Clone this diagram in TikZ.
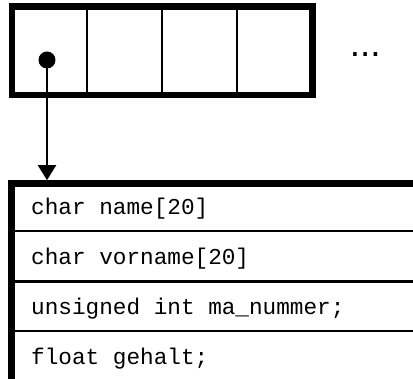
\documentclass[tikz,border=0pt]{standalone}
\usepackage{fontspec}
\setmonofont{Liberation Mono}
\newfontfamily\dotsfont{Liberation Sans}
\usetikzlibrary{arrows.meta}
\begin{document}
\begin{tikzpicture}[x=1pt,y=-1pt,
  cell/.style={draw,line width=2pt,minimum width=75.1pt,minimum height=88.3pt,inner sep=0pt,outer sep=0pt},
  thick border/.style={line width=6.6pt},
  divider/.style={line width=2.6pt},
  member/.style={anchor=base west,inner sep=0pt,font=\fontsize{22.7}{26}\ttfamily},
  ptr/.style={circle,fill=black,minimum size=17pt,inner sep=0pt},
  conn/.style={line width=2pt,-{Triangle[width=18pt,length=15pt]}}]
\useasboundingbox (0,0) rectangle (413,379);
% array cells
\node[cell] (c1) at (49.35,50.85) {};
\node[cell] (c2) at (124.45,50.85) {};
\node[cell] (c3) at (199.55,50.85) {};
\node[cell] (c4) at (274.65,50.85) {};
\draw[thick border] (c1.north west) rectangle (c4.south east);
\node[ptr] (p) at (47,60) {};
\node[anchor=base west,inner sep=0pt,font=\fontsize{37}{40}\dotsfont] (more) at (349.6,57) {...};
% struct
\coordinate (stop) at (47,180.2);
\draw[thick border] (11.5,183.5) -- (425,183.5);
\draw[thick border] (11.5,180.2) -- (11.5,390);
\draw[divider] (11.5,231) -- (425,231);
\draw[divider] (11.5,281.5) -- (425,281.5);
\draw[divider] (11.5,331) -- (425,331);
\node[member] (m1) at (31,215) {char name[20]};
\node[member] (m2) at (31,265) {char vorname[20]};
\node[member] (m3) at (31,315) {unsigned int ma\_nummer;};
\node[member] (m4) at (31,365) {float gehalt;};
% pointer
\draw[conn] (p.center) -- (stop);
\end{tikzpicture}
\end{document}
